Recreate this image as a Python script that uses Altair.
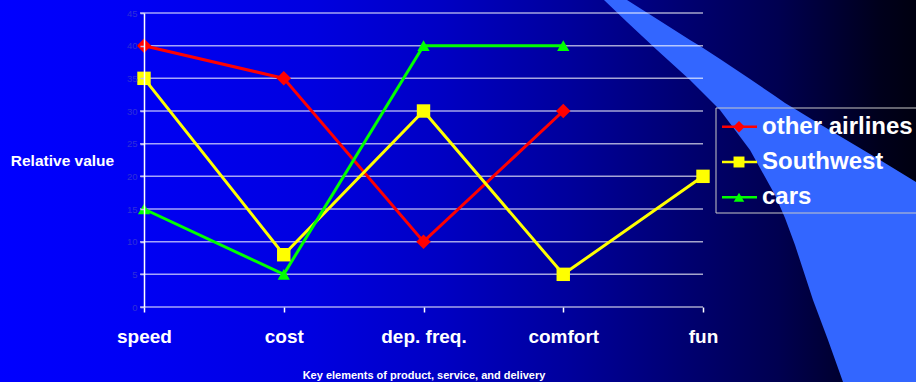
import altair as alt
import pandas as pd

# ---- data ----
categories = ["speed", "cost", "dep. freq.", "comfort", "fun"]
series_names = ["other airlines", "Southwest", "cars"]
other_airlines = [40, 35, 10, 30, None]
southwest = [35, 8, 30, 5, 20]
cars = [15, 5, 40, 40, None]
y_ticks = [0, 5, 10, 15, 20, 25, 30, 35, 40, 45]

series_colors = ["#ff0000", "#ffff00", "#00ff00"]
series_shapes = ["diamond", "square", "triangle-up"]
series_sizes = [210, 150, 190]
legend_sizes = [130, 110, 120]

# decorative swoosh outline (page pixels): x, upper edge, lower edge
swoosh_x = [604, 627, 657, 690, 700, 720, 750, 775, 785, 795, 813, 828, 843, 880, 916]
swoosh_top = [0, 0, 19, 40, 46, 59, 79, 96, 103, 109, 120, 129, 138, 160, 182]
swoosh_bot = [0, 22, 50, 80, 90, 110, 150, 195, 218, 245, 300, 340, 382, 382, 382]

rows = []
for name, vals in zip(series_names, [other_airlines, southwest, cars]):
    for c, v in zip(categories, vals):
        if v is not None:
            rows.append({"category": c, "series": name, "value": v})
df = pd.DataFrame(rows)
legend_df = pd.DataFrame({"series": series_names})
grid_df = pd.DataFrame({"v": y_ticks})
swoosh_df = pd.DataFrame({"px": swoosh_x, "top": swoosh_top, "bot": swoosh_bot})
one = pd.DataFrame({"k": [0]})

W, H = 916, 382
L, T, PW, PH = 144, 13, 559, 294

color_scale = alt.Scale(domain=series_names, range=series_colors)
shape_scale = alt.Scale(domain=series_names, range=series_shapes)
x_scale = alt.Scale(type="point", domain=categories, padding=0)
y_scale = alt.Scale(domain=[0, 45], nice=False, zero=True)

bg = alt.Chart(one).mark_rect(
    fill=alt.LinearGradient(
        gradient="linear", x1=0, x2=1, y1=0, y2=0,
        stops=[
            alt.GradientStop(color="#0000ff", offset=0),
            alt.GradientStop(color="#0000f4", offset=0.15),
            alt.GradientStop(color="#0000e0", offset=0.34),
            alt.GradientStop(color="#0000c4", offset=0.48),
            alt.GradientStop(color="#00009c", offset=0.62),
            alt.GradientStop(color="#000070", offset=0.75),
            alt.GradientStop(color="#000050", offset=0.85),
            alt.GradientStop(color="#00001c", offset=0.96),
            alt.GradientStop(color="#000010", offset=1),
        ],
    )
).encode(x=alt.value(-L), x2=alt.value(W - L), y=alt.value(-T), y2=alt.value(H - T))

swoosh = alt.Chart(swoosh_df).mark_area(color="#3366ff", opacity=1).encode(
    x=alt.X("px:Q", scale=alt.Scale(domain=[0, W], range=[-L, W - L]), axis=None),
    y=alt.Y("top:Q", scale=alt.Scale(domain=[0, H], range=[-T, H - T]), axis=None),
    y2="bot:Q",
)

grid = alt.Chart(grid_df).mark_rule(color="#ffffff", strokeOpacity=0.65, strokeWidth=1.5).encode(
    y=alt.Y("v:Q", scale=y_scale, axis=None),
    x=alt.value(-4),
    x2=alt.value(PW),
)

lines = alt.Chart(df).mark_line(strokeWidth=3).encode(
    x=alt.X(
        "category:N", scale=x_scale, sort=categories,
        axis=alt.Axis(
            title="Key elements of product, service, and delivery",
            labelAngle=0, labelFontSize=19, labelFontWeight="bold", labelColor="#ffffff",
            labelPadding=15, tickColor="#ffffff", tickSize=5, tickWidth=1.5, domain=False,
            grid=False, titleFontSize=11, titleFontWeight="bold", titleColor="#ffffff",
            titleY=62, titleBaseline="top", zindex=1,
        ),
    ),
    y=alt.Y(
        "value:Q", scale=y_scale,
        axis=alt.Axis(
            title="Relative value", values=y_ticks, grid=False,
            labelFontSize=9.5, labelColor="#3030d8", labelPadding=3,
            tickSize=4, tickColor="#c0c0f0", tickWidth=1.5,
            domainColor="#ffffff", domainWidth=1.5,
            titleAngle=0, titleX=-82, titleY=147, titleAlign="center",
            titleBaseline="middle", titleFontSize=15.5, titleFontWeight="bold",
            titleColor="#ffffff", zindex=1,
        ),
    ),
    color=alt.Color("series:N", scale=color_scale, legend=None),
    detail="series:N",
)

points = alt.Chart(df).mark_point(filled=True, opacity=1).encode(
    x=alt.X("category:N", scale=x_scale, sort=categories, axis=None),
    y=alt.Y("value:Q", scale=y_scale, axis=None),
    color=alt.Color("series:N", scale=color_scale, legend=None),
    shape=alt.Shape("series:N", scale=shape_scale, legend=None),
    size=alt.Size("series:N", scale=alt.Scale(domain=series_names, range=series_sizes), legend=None),
)

leg_y = alt.Y("series:N", scale=alt.Scale(type="point", domain=series_names,
                                           range=[113.7, 184.3], padding=0), axis=None)

leg_box = alt.Chart(one).mark_rect(filled=False, stroke="#c8c8c8", strokeWidth=1).encode(
    x=alt.value(572), x2=alt.value(W - L + 5), y=alt.value(95), y2=alt.value(200)
)
leg_lines = alt.Chart(legend_df).mark_rule(strokeWidth=2.5).encode(
    x=alt.value(578), x2=alt.value(613), y=leg_y,
    color=alt.Color("series:N", scale=color_scale, legend=None),
)
leg_pts = alt.Chart(legend_df).mark_point(filled=True, opacity=1).encode(
    x=alt.value(595), y=leg_y,
    color=alt.Color("series:N", scale=color_scale, legend=None),
    shape=alt.Shape("series:N", scale=shape_scale, legend=None),
    size=alt.Size("series:N", scale=alt.Scale(domain=series_names, range=legend_sizes), legend=None),
)
leg_text = alt.Chart(legend_df).mark_text(
    align="left", baseline="middle", fontSize=24, fontWeight="bold", color="#ffffff"
).encode(x=alt.value(618), y=leg_y, text="series:N")

chart = alt.layer(
    bg, swoosh, grid, lines, points, leg_box, leg_lines, leg_pts, leg_text
).resolve_scale(
    x="independent", y="independent", color="shared", shape="shared", size="independent"
).properties(
    width=PW, height=PH,
    autosize=alt.AutoSizeParams(type="none"),
    padding={"left": L, "top": T, "right": W - L - PW, "bottom": H - T - PH},
    background="#000010",
).configure_view(stroke=None).configure(font="Liberation Sans")

chart.save("out.html", embed_options={"renderer": "svg", "actions": False})
